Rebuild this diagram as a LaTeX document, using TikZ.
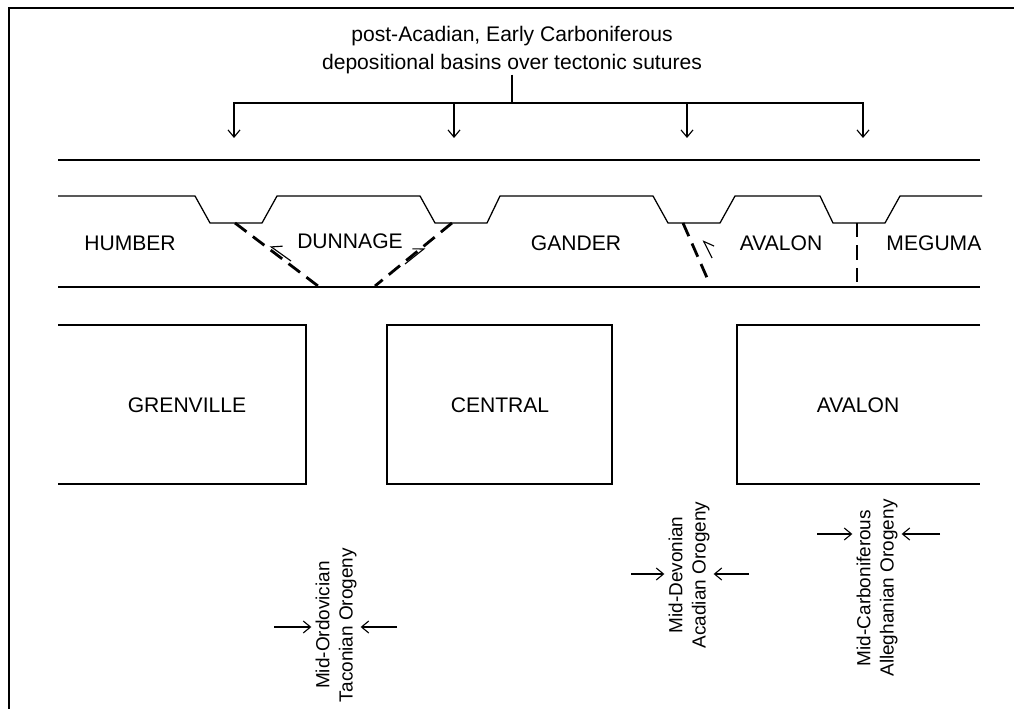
\documentclass[tikz,border=0pt]{standalone}
\usepackage{fontspec}
\setmainfont{Liberation Sans}
\usepackage{tikz}
\usetikzlibrary{positioning,calc,arrows.meta}

\tikzset{
  lbl/.style={inner sep=0pt, font=\fontsize{15}{20}\selectfont},
  orog/.style={inner sep=0pt, outer sep=3pt, rotate=90, align=center, font=\fontsize{13.5}{16.5}\selectfont},
  fault/.style={line width=2pt, dash pattern=on 0.36cm off 0.2cm},
  slip/.style={line width=0.8pt, -{Straight Barb[harpoon,length=2.2mm,width=3.6mm]}},
  slipr/.style={slip, -{Straight Barb[harpoon,swap,length=2.2mm,width=3.6mm]}},
  push/.style={line width=0.8pt, -{Straight Barb[length=1.8mm,width=3mm]}},
}

\begin{document}
\begin{tikzpicture}[x=0.025cm, y=-0.025cm, line width=0.9pt]
    \useasboundingbox (0,0) rectangle (1014,709);
    % frame
    \draw [line width=1.8pt] (9,709) -- (9,8) -- (1014,8);

    % title and arrows to the basins
    \node [lbl, align=center] (title) at (512,50) {post-Acadian, Early Carboniferous\\depositional basins over tectonic sutures};
    \coordinate (bar) at (512,103);
    \coordinate (t1) at (234,138);
    \coordinate (t2) at (454,138);
    \coordinate (t3) at (687,138);
    \coordinate (t4) at (863,138);
    \draw (title.south) -- (bar);
    \draw [push] (bar) -| (t1);
    \draw [push] (bar) -| (t2);
    \draw [push] (bar) -| (t3);
    \draw [push] (bar) -| (t4);

    % upper belt
    \draw (58,160) -- (980,160);
    \draw (58,196) -- (195,196) -- (210,223) -- (262,223) -- (277,196)
      -- (420,196) -- (435,223) -- (487,223) -- (500,196)
      -- (653,196) -- (668,223) -- (720,223) -- (735,196)
      -- (820,196) -- (833,223) -- (885,223) -- (900,196) -- (982,196);
    \draw (58,287) -- (980,287);

    \node [lbl] (humber) at (130,243) {HUMBER};
    \node [lbl] (dunnage) at (350,241) {DUNNAGE};
    \node [lbl] (gander) at (576,243) {GANDER};
    \node [lbl] (avalon) at (781,243) {AVALON};
    \node [lbl, anchor=east] (meguma) at (982,243) {MEGUMA};

    % sutures
    \draw [fault] (235,223) -- (318,286);
    \draw [fault] (452,223) -- (375,286);
    \draw [fault] (683,223) -- (708,280);
    \draw [fault] (857,223) -- (857,287);
    \draw [slipr] (291,261) -- (270,246);
    \draw [slip] (405,264) -- (425,248);
    \draw [slipr] (712,258) -- (703,240);

    % lower blocks
    \draw (58,325) -- (306,325) -- (306,484) -- (58,484);
    \node [lbl] (grenville) at (187,405) {GRENVILLE};
    \draw (387,325) rectangle (612,484);
    \node [lbl] (central) at (500,405) {CENTRAL};
    \draw (980,325) -- (737,325) -- (737,484) -- (980,484);
    \node [lbl] (avalonb) at (858,405) {AVALON};

    % orogenies
    \node [orog] (taconic) at (336,625) {Mid-Ordovician\\Taconian Orogeny};
    \coordinate (ta) at (274,627);
    \coordinate (tb) at (397,627);
    \draw [push] (ta) -- (ta -| taconic.north);
    \draw [push] (tb) -- (tb -| taconic.south);

    \node [orog] (acadian) at (689,575) {Mid-Devonian\\Acadian Orogeny};
    \coordinate (aa) at (631,574);
    \coordinate (ab) at (749,574);
    \draw [push] (aa) -- (aa -| acadian.north);
    \draw [push] (ab) -- (ab -| acadian.south);

    \node [orog] (allegh) at (877,588) {Mid-Carboniferous\\Alleghanian Orogeny};
    \coordinate (la) at (817,534);
    \coordinate (lb) at (940,534);
    \draw [push] (la) -- (la -| allegh.north);
    \draw [push] (lb) -- (lb -| allegh.south);
\end{tikzpicture}
\end{document}
